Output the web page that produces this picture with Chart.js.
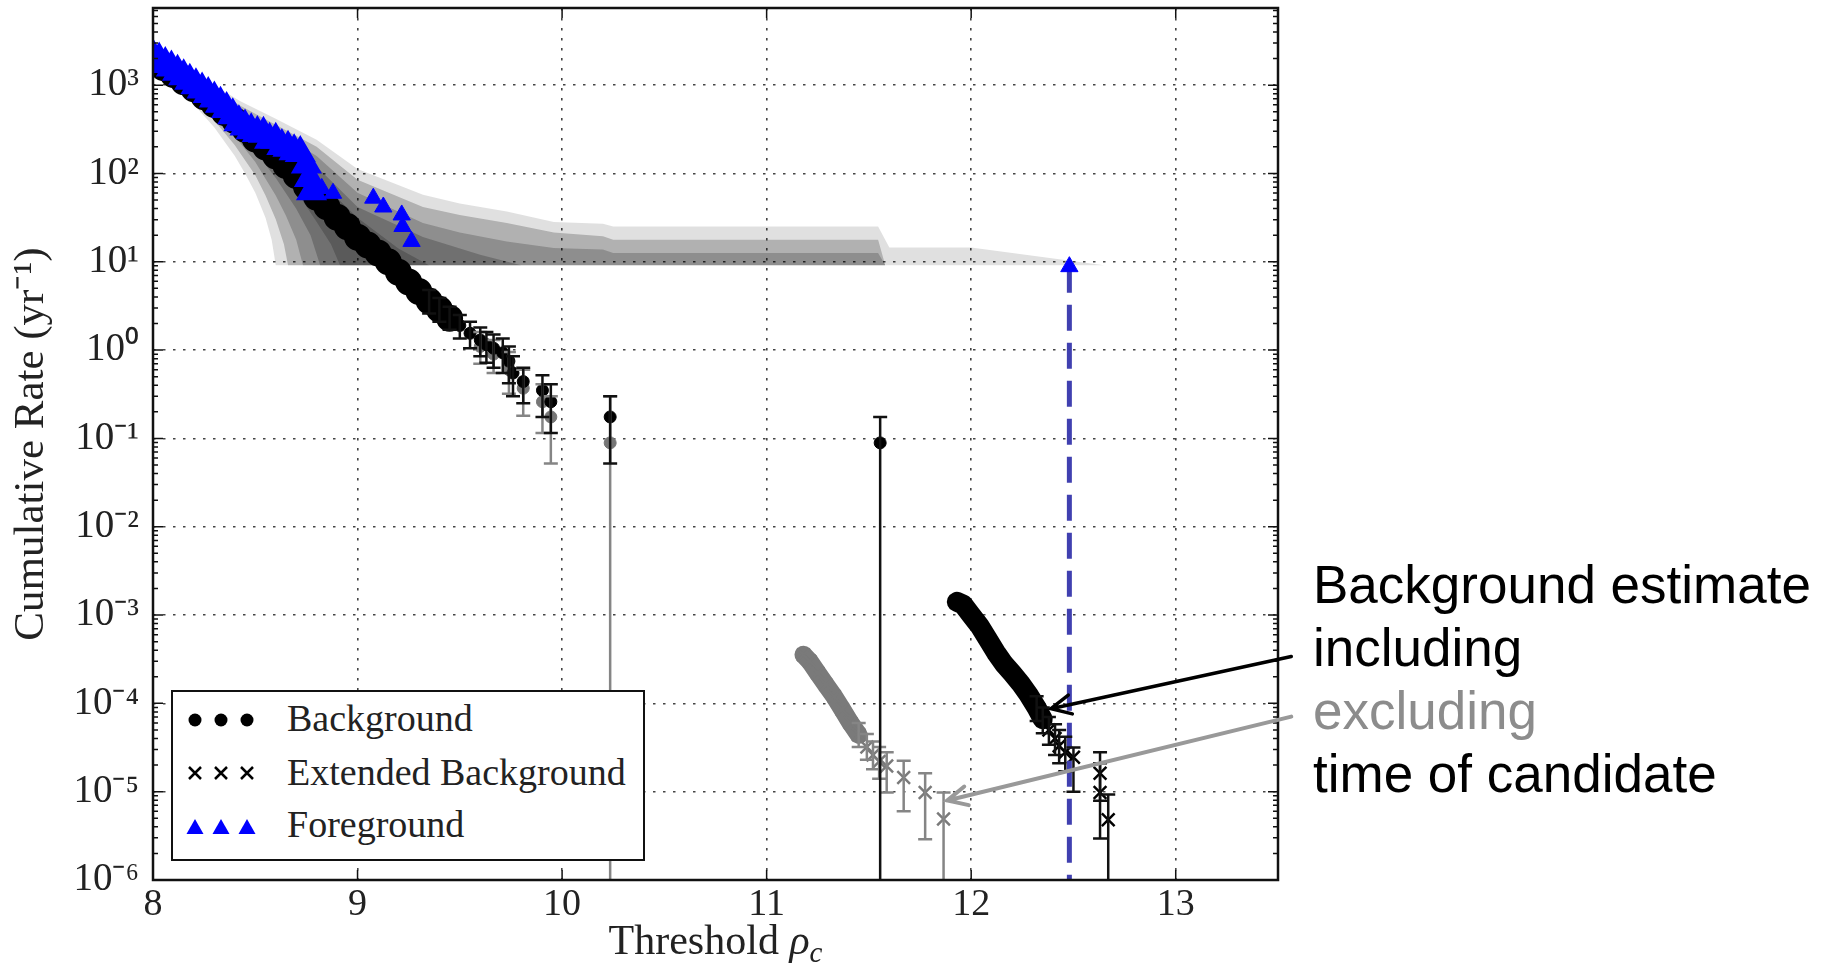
<!DOCTYPE html>
<html>
<head>
<meta charset="utf-8">
<script src="https://cdn.jsdelivr.net/npm/chart.js@4.4.1/dist/chart.umd.min.js"></script>
<style>
  body { margin: 0; background: #fff; }
  #wrap { position: relative; width: 1827px; height: 966px; overflow: hidden; }
  #chart { position: absolute; left: 0; top: 0; }
  .abs { position: absolute; }
  #legend-box { left: 171px; top: 690px; width: 474px; height: 171px; border: 2.5px solid #111; box-sizing: border-box; background: #fff; }
  .legend-text { font-family: "Liberation Serif", "Times New Roman", serif; font-size: 38px; line-height: 38px; color: #222; white-space: nowrap; }
  #note { left: 1313px; top: 553px; font-family: "Liberation Sans", Arial, sans-serif; font-size: 53px; line-height: 63px; color: #000; white-space: nowrap; }
  #note .grey { color: #8c8c8c; }
</style>
</head>
<body>
<div id="wrap">
  <canvas id="chart" width="1827" height="966"></canvas>

  <div id="legend-box" class="abs"></div>
  <svg class="abs" style="left:0;top:0" width="1827" height="966">
    <g fill="#000">
      <circle cx="195" cy="720" r="6.5"/><circle cx="221" cy="720" r="6.5"/><circle cx="247" cy="720" r="6.5"/>
    </g>
    <g stroke="#000" stroke-width="2.5">
      <path d="M189 767 L201 779 M201 767 L189 779"/>
      <path d="M215 767 L227 779 M227 767 L215 779"/>
      <path d="M241 767 L253 779 M253 767 L241 779"/>
    </g>
    <g fill="#0000ff">
      <path d="M195 819 L186.5 834 L203.5 834 Z"/>
      <path d="M221 819 L212.5 834 L229.5 834 Z"/>
      <path d="M247 819 L238.5 834 L255.5 834 Z"/>
    </g>
  </svg>
  <div class="abs legend-text" style="left:287px;top:699px">Background</div>
  <div class="abs legend-text" style="left:287px;top:753px">Extended Background</div>
  <div class="abs legend-text" style="left:287px;top:805px">Foreground</div>

  <div id="note" class="abs">Background estimate<br>including<br><span class="grey">excluding</span><br>time of candidate</div>
</div>

<script>
// ---- axis ticks ----
const xTicks = [8, 9, 10, 11, 12, 13];
const xTickLabels = ['8', '9', '10', '11', '12', '13'];
const yTickExps = [-6, -5, -4, -3, -2, -1, 0, 1, 2, 3];
const yTickLabels = ['10⁻⁶', '10⁻⁵', '10⁻⁴', '10⁻³', '10⁻²', '10⁻¹', '10⁰', '10¹', '10²', '10³'];

// ---- shaded expected-background bands (outer/lightest to inner/darkest) ----
const band1UpX = [8.0, 8.2, 8.425, 8.6, 8.8, 9.0, 9.32, 9.5, 9.73, 9.96, 10.2, 10.25, 11.545, 11.6, 12.0, 12.65];
const band1UpY = [2399, 1380, 661, 417, 240, 112, 57.5, 45.7, 37.2, 28.2, 26.9, 25.1, 25.1, 14.5, 14.5, 9.12];
const band1LoX = [8.0, 8.1, 8.2, 8.3, 8.4, 8.45, 8.5, 8.55, 8.58, 8.6, 12.65];
const band1LoY = [1660, 1000, 603, 331, 158, 100, 60.3, 31.6, 17.8, 9.12, 9.12];
const band2UpX = [8.0, 8.2, 8.425, 8.6, 8.8, 9.0, 9.32, 9.5, 9.73, 9.96, 10.2, 10.25, 11.545, 11.58];
const band2UpY = [2291, 1259, 589, 355, 200, 85.1, 41.7, 33.9, 27.5, 21.4, 19.5, 17.8, 17.8, 9.12];
const band2LoX = [8.0, 8.1, 8.2, 8.3, 8.4, 8.5, 8.55, 8.6, 8.64, 8.66, 11.58];
const band2LoY = [1738, 1072, 661, 398, 209, 95.5, 56.2, 30.2, 15.8, 9.12, 9.12];
const band3UpX = [8.0, 8.2, 8.425, 8.6, 8.8, 9.0, 9.32, 9.5, 9.73, 9.96, 10.2, 10.25, 11.545, 11.58];
const band3UpY = [2188, 1148, 525, 302, 158, 60.3, 27.5, 21.4, 17.0, 14.3, 13.8, 12.6, 12.6, 9.12];
const band3LoX = [8.0, 8.1, 8.2, 8.3, 8.4, 8.5, 8.6, 8.65, 8.7, 8.733, 11.58];
const band3LoY = [1778, 1148, 724, 457, 263, 135, 56.2, 33.1, 17.8, 9.12, 9.12];
const band4UpX = [8.0, 8.2, 8.425, 8.6, 8.8, 9.0, 9.32, 9.6, 9.8];
const band4UpY = [2089, 1047, 447, 251, 120, 41.7, 19.1, 12.0, 9.12];
const band4LoX = [8.0, 8.1, 8.2, 8.3, 8.4, 8.5, 8.6, 8.7, 8.77, 8.817, 9.8];
const band4LoY = [1820, 1202, 776, 501, 316, 178, 89.1, 39.8, 20.0, 9.12, 9.12];
const band5UpX = [8.0, 8.2, 8.425, 8.6, 8.8, 9.0, 9.2, 9.35];
const band5UpY = [1995, 955, 380, 200, 89.1, 31.6, 14.1, 9.12];
const band5LoX = [8.0, 8.1, 8.2, 8.3, 8.4, 8.5, 8.6, 8.7, 8.8, 8.87, 8.914, 9.35];
const band5LoY = [1862, 1259, 832, 550, 363, 224, 126, 63.1, 28.2, 15.8, 9.12, 9.12];

// ---- Background (including candidate time) ----
const bgDenseX = [8.00, 8.05, 8.10, 8.15, 8.20, 8.25, 8.30, 8.35, 8.40, 8.45, 8.50, 8.55, 8.60, 8.65, 8.70,
                  8.75, 8.80, 8.85, 8.90, 8.95, 9.00, 9.05, 9.10, 9.15, 9.20, 9.25, 9.30, 9.35, 9.40, 9.45];
const bgDenseY = [1905, 1585, 1318, 1096, 912, 741, 603, 490, 398, 316, 245, 200, 158, 123, 95,
                  71, 54, 42, 32, 25, 19, 15.5, 12.6, 10, 7.6, 5.9, 4.6, 3.6, 2.9, 2.3];
const bgX  = [9.35, 9.40, 9.45, 9.50, 9.55, 9.60, 9.63, 9.665, 9.71, 9.74, 9.76, 9.81, 9.904, 9.945, 10.235, 11.555];
const bgY  = [3.6, 2.9, 2.3, 1.9, 1.55, 1.3, 1.15, 1.05, 0.93, 0.75, 0.55, 0.44, 0.35, 0.26, 0.175, 0.089];
const bgLo = [2.6, 2.1, 1.7, 1.35, 1.05, 0.85, 0.72, 0.63, 0.55, 0.42, 0.30, 0.25, 0.175, 0.115, 0.052, 0];
const bgHi = [4.8, 3.9, 3.1, 2.5, 2.1, 1.8, 1.6, 1.5, 1.35, 1.1, 0.85, 0.63, 0.52, 0.41, 0.30, 0.175];

// ---- Background excluding candidate time (grey) ----
const exclX  = [9.60, 9.665, 9.74, 9.81, 9.904, 9.945, 10.235];
const exclY  = [1.1, 0.9, 0.6, 0.37, 0.26, 0.175, 0.089];
const exclLo = [0.7, 0.55, 0.32, 0.18, 0.115, 0.052, 0];
const exclHi = [1.6, 1.3, 0.95, 0.6, 0.41, 0.30, 0.30];

// ---- Extended background, including (black) ----
const extDenseX = [11.93, 11.96, 12.00, 12.04, 12.08, 12.12, 12.16, 12.20, 12.24, 12.28, 12.32, 12.35];
const extDenseY = [1.41e-3, 1.32e-3, 1.0e-3, 7.6e-4, 5.4e-4, 3.8e-4, 2.8e-4, 2.2e-4, 1.7e-4, 1.26e-4, 8.9e-5, 6.6e-5];
const extX  = [12.32, 12.35, 12.38, 12.41, 12.43, 12.46, 12.50, 12.63, 12.63, 12.67];
const extY  = [8.9e-5, 6.6e-5, 5.0e-5, 4.0e-5, 3.3e-5, 2.8e-5, 2.45e-5, 1.62e-5, 9.8e-6, 4.8e-6];
const extLo = [6.3e-5, 4.6e-5, 3.4e-5, 2.6e-5, 2.1e-5, 1.7e-5, 1.0e-5, 7.9e-6, 2.95e-6, 0];
const extHi = [1.2e-4, 9.0e-5, 7.0e-5, 5.8e-5, 5.0e-5, 4.2e-5, 3.16e-5, 2.8e-5, 2.1e-5, 9.3e-6];

// ---- Extended background, excluding (grey) ----
const exclExtDenseX = [11.18, 11.21, 11.25, 11.29, 11.33, 11.37, 11.41, 11.45];
const exclExtDenseY = [3.55e-4, 3.0e-4, 2.2e-4, 1.62e-4, 1.2e-4, 8.5e-5, 6.0e-5, 4.4e-5];
const exclExtX  = [11.45, 11.49, 11.52, 11.55, 11.587, 11.67, 11.775, 11.865];
const exclExtY  = [4.4e-5, 3.2e-5, 2.6e-5, 2.2e-5, 1.95e-5, 1.45e-5, 9.8e-6, 4.9e-6];
const exclExtLo = [3.2e-5, 2.3e-5, 1.8e-5, 1.4e-5, 9.8e-6, 6.0e-6, 2.9e-6, 0];
const exclExtHi = [6.0e-5, 4.5e-5, 3.7e-5, 3.2e-5, 2.8e-5, 2.24e-5, 1.62e-5, 9.8e-6];

// ---- Foreground ----
const fgDenseX = [8.00, 8.03, 8.06, 8.09, 8.12, 8.15, 8.18, 8.21, 8.24, 8.27, 8.30, 8.33, 8.36, 8.39,
                  8.42, 8.45, 8.48, 8.51, 8.54, 8.57, 8.60, 8.63, 8.66, 8.69, 8.72, 8.75, 8.765, 8.775];
const fgDenseY = [2138, 1950, 1738, 1585, 1413, 1259, 1122, 1000, 891, 794, 708, 617, 537, 457,
                  380, 339, 309, 288, 282, 240, 240, 204, 195, 178, 170, 126, 89, 63];
const fgX = [8.825, 8.88, 9.077, 9.126, 9.216, 9.22, 9.264, 12.48];
const fgY = [67.6, 59.6, 52.5, 41.7, 33.9, 25.1, 17.0, 8.8];

// candidate marker line
const candX = [12.48, 12.48];
const candY = [8.8, 1e-6];

// annotation arrows (data coordinates)
const arrows = [
    { x0: 13.565, y0: 3.39e-4, x1: 12.39, y1: 8.7e-5, color: '#000', width: 3.5 },
    { x0: 13.565, y0: 7.08e-5, x1: 11.883, y1: 7.94e-6, color: '#999', width: 4 },
];

const serif = '"Liberation Serif", "Times New Roman", serif';

function pts(xs, ys) {
    return xs.map((x, i) => ({ x, y: ys[i] }));
}

function isDecade(v) {
    if (!v || v <= 0) return false;
    const l = Math.log10(v);
    return Math.abs(l - Math.round(l)) < 1e-6;
}

const datasets = [];

function addBand(upX, upY, loX, loY, alpha) {
    datasets.push({
        data: pts(upX, upY), fill: '+1', backgroundColor: `rgba(0,0,0,${alpha})`,
        borderWidth: 0, pointRadius: 0, order: 30,
    });
    datasets.push({
        data: pts(loX, loY), fill: false, borderWidth: 0, pointRadius: 0, order: 30,
    });
}

addBand(band1UpX, band1UpY, band1LoX, band1LoY, 0.12);
addBand(band2UpX, band2UpY, band2LoX, band2LoY, 0.21);
addBand(band3UpX, band3UpY, band3LoX, band3LoY, 0.2);
addBand(band4UpX, band4UpY, band4LoX, band4LoY, 0.21);
addBand(band5UpX, band5UpY, band5LoX, band5LoY, 0.2);

datasets.push(
    { // excluding, grey tail
        data: pts(exclX, exclY), showLine: false, pointStyle: 'circle', pointRadius: 6,
        pointBackgroundColor: '#767676', pointBorderColor: '#767676', order: 12,
    },
    { // background dense
        data: pts(bgDenseX, bgDenseY), borderColor: '#000', borderWidth: 15, fill: false,
        borderJoinStyle: 'round', borderCapStyle: 'round',
        pointStyle: 'circle', pointRadius: 6, pointBackgroundColor: '#000', pointBorderColor: '#000', order: 11,
    },
    { // background tail
        data: pts(bgX, bgY), showLine: false, pointStyle: 'circle', pointRadius: 6,
        pointBackgroundColor: '#000', pointBorderColor: '#000', order: 10,
    },
    { // extended excluding dense
        data: pts(exclExtDenseX, exclExtDenseY), borderColor: '#7a7a7a', borderWidth: 18, fill: false,
        borderJoinStyle: 'round', borderCapStyle: 'round',
        pointStyle: 'crossRot', pointRadius: 9, pointBorderWidth: 2.5, pointBorderColor: '#7a7a7a', order: 9,
    },
    { // extended excluding tail
        data: pts(exclExtX, exclExtY), showLine: false, pointStyle: 'crossRot', pointRadius: 9,
        pointBorderWidth: 2.5, pointBorderColor: '#7a7a7a', order: 8,
    },
    { // extended including dense
        data: pts(extDenseX, extDenseY), borderColor: '#000', borderWidth: 20, fill: false,
        borderJoinStyle: 'round', borderCapStyle: 'round',
        pointStyle: 'crossRot', pointRadius: 9, pointBorderWidth: 2.5, pointBorderColor: '#000', order: 7,
    },
    { // extended including tail
        data: pts(extX, extY), showLine: false, pointStyle: 'crossRot', pointRadius: 9,
        pointBorderWidth: 2.5, pointBorderColor: '#000', order: 6,
    },
    { // candidate dashed line
        data: pts(candX, candY), borderColor: '#4040b0', borderWidth: 5, borderDash: [26, 12],
        fill: false, pointRadius: 0, order: 3,
    },
    { // foreground dense
        data: pts(fgDenseX, fgDenseY), borderColor: '#0000ff', borderWidth: 10, fill: false,
        borderJoinStyle: 'round', borderCapStyle: 'round',
        pointStyle: 'triangle', pointRadius: 8, pointBackgroundColor: '#0000ff', pointBorderColor: '#0000ff', order: 2,
    },
    { // foreground discrete
        data: pts(fgX, fgY), showLine: false, pointStyle: 'triangle', pointRadius: 10,
        pointBackgroundColor: '#0000ff', pointBorderColor: '#0000ff', order: 1,
    }
);

const errorSets = [
    { x: exclX, y: exclY, lo: exclLo, hi: exclHi, color: '#858585' },
    { x: exclExtX, y: exclExtY, lo: exclExtLo, hi: exclExtHi, color: '#858585' },
    { x: bgX, y: bgY, lo: bgLo, hi: bgHi, color: '#111' },
    { x: extX, y: extY, lo: extLo, hi: extHi, color: '#111' },
];

const errorBarPlugin = {
    id: 'errorBars',
    afterDatasetsDraw(chart) {
        const { ctx, chartArea } = chart;
        const xs = chart.scales.x;
        const ys = chart.scales.y;
        ctx.save();
        ctx.beginPath();
        ctx.rect(chartArea.left, chartArea.top, chartArea.right - chartArea.left, chartArea.bottom - chartArea.top);
        ctx.clip();
        errorSets.forEach((set) => {
            ctx.strokeStyle = set.color;
            ctx.lineWidth = 2.5;
            set.x.forEach((x, i) => {
                const px = xs.getPixelForValue(x);
                const top = ys.getPixelForValue(set.hi[i]);
                const bottom = set.lo[i] > 0 ? ys.getPixelForValue(set.lo[i]) : chartArea.bottom;
                ctx.beginPath();
                ctx.moveTo(px, top);
                ctx.lineTo(px, bottom);
                ctx.moveTo(px - 7, top);
                ctx.lineTo(px + 7, top);
                if (set.lo[i] > 0) {
                    ctx.moveTo(px - 7, bottom);
                    ctx.lineTo(px + 7, bottom);
                }
                ctx.stroke();
            });
        });
        ctx.restore();
    }
};

const framePlugin = {
    id: 'frame',
    afterDraw(chart) {
        const { ctx, chartArea: a } = chart;
        const xs = chart.scales.x;
        const ys = chart.scales.y;
        ctx.save();
        ctx.strokeStyle = '#111';

        // inward tick marks
        ctx.lineWidth = 1.5;
        ctx.beginPath();
        ys.ticks.forEach((t) => {
            const v = t.value;
            const l = Math.log10(v);
            const mant = v / Math.pow(10, Math.floor(l + 1e-9));
            if (Math.abs(mant - Math.round(mant)) > 1e-6 || v > ys.max) return;
            const py = ys.getPixelForValue(v);
            const len = isDecade(v) ? 10 : 5;
            ctx.moveTo(a.left, py); ctx.lineTo(a.left + len, py);
            ctx.moveTo(a.right, py); ctx.lineTo(a.right - len, py);
        });
        xTicks.forEach((v) => {
            const px = xs.getPixelForValue(v);
            ctx.moveTo(px, a.bottom); ctx.lineTo(px, a.bottom - 10);
            ctx.moveTo(px, a.top); ctx.lineTo(px, a.top + 10);
        });
        ctx.stroke();

        // frame
        ctx.lineWidth = 2.5;
        ctx.strokeRect(a.left, a.top, a.right - a.left, a.bottom - a.top);

        // arrows
        arrows.forEach((ar) => {
            const x0 = xs.getPixelForValue(ar.x0), y0 = ys.getPixelForValue(ar.y0);
            const x1 = xs.getPixelForValue(ar.x1), y1 = ys.getPixelForValue(ar.y1);
            const ang = Math.atan2(y0 - y1, x0 - x1);
            ctx.strokeStyle = ar.color;
            ctx.lineWidth = ar.width;
            ctx.lineCap = 'round';
            ctx.beginPath();
            ctx.moveTo(x0, y0);
            ctx.lineTo(x1, y1);
            ctx.moveTo(x1 + 22 * Math.cos(ang + 0.45), y1 + 22 * Math.sin(ang + 0.45));
            ctx.lineTo(x1, y1);
            ctx.lineTo(x1 + 22 * Math.cos(ang - 0.45), y1 + 22 * Math.sin(ang - 0.45));
            ctx.stroke();
        });

        // x axis title with subscript
        const cx = (a.left + a.right) / 2;
        const base = 954;
        ctx.fillStyle = '#222';
        ctx.textBaseline = 'alphabetic';
        ctx.textAlign = 'left';
        const f1 = `42px ${serif}`, f2 = `italic 42px ${serif}`, f3 = `italic 29px ${serif}`;
        ctx.font = f1; const w1 = ctx.measureText('Threshold ').width;
        ctx.font = f2; const w2 = ctx.measureText('ρ').width;
        ctx.font = f3; const w3 = ctx.measureText('c').width;
        let sx = cx - (w1 + w2 + w3) / 2;
        ctx.font = f1; ctx.fillText('Threshold ', sx, base); sx += w1;
        ctx.font = f2; ctx.fillText('ρ', sx, base); sx += w2;
        ctx.font = f3; ctx.fillText('c', sx, base + 8);
        ctx.restore();
    }
};

new Chart(document.getElementById('chart'), {
    type: 'line',
    data: { datasets },
    options: {
        responsive: false,
        animation: false,
        events: [],
        layout: { autoPadding: false, padding: { left: 0, right: 549, top: 8, bottom: 0 } },
        plugins: {
            legend: { display: false },
            tooltip: { enabled: false },
        },
        scales: {
            x: {
                type: 'linear',
                min: 8,
                max: 13.5,
                afterFit: (s) => {
                    s.height = 86;
                    s.paddingLeft = 0;
                    s.paddingRight = 0;
                },
                ticks: {
                    stepSize: 1,
                    includeBounds: false,
                    padding: 2,
                    color: '#222',
                    font: { family: serif, size: 38 },
                    callback: (v) => {
                        const i = xTicks.indexOf(v);
                        return i >= 0 ? xTickLabels[i] : '';
                    },
                },
                grid: { color: '#444', lineWidth: 1.6, drawTicks: false },
                border: { display: false, dash: [2.5, 7.5] },
            },
            y: {
                type: 'logarithmic',
                min: 1e-6,
                max: 7470,
                afterFit: (s) => {
                    s.width = 153;
                    s.paddingTop = 0;
                    s.paddingBottom = 0;
                },
                ticks: {
                    autoSkip: false,
                    padding: 14,
                    color: '#222',
                    font: { family: serif, size: 39, lineHeight: 0.2 },
                    callback: (v) => {
                        if (!isDecade(v)) return '';
                        const i = yTickExps.indexOf(Math.round(Math.log10(v)));
                        return i >= 0 ? yTickLabels[i] : '';
                    },
                },
                grid: {
                    color: (c) => (c.tick && isDecade(c.tick.value) ? '#444' : 'rgba(0,0,0,0)'),
                    lineWidth: 1.6,
                    drawTicks: false,
                },
                border: { display: false, dash: [2.5, 7.5] },
                title: {
                    display: true,
                    text: 'Cumulative Rate (yr⁻¹)',
                    color: '#222',
                    font: { family: serif, size: 43 },
                    padding: { top: 6, bottom: 0 },
                },
            },
        },
    },
    plugins: [errorBarPlugin, framePlugin],
});
</script>
</body>
</html>
